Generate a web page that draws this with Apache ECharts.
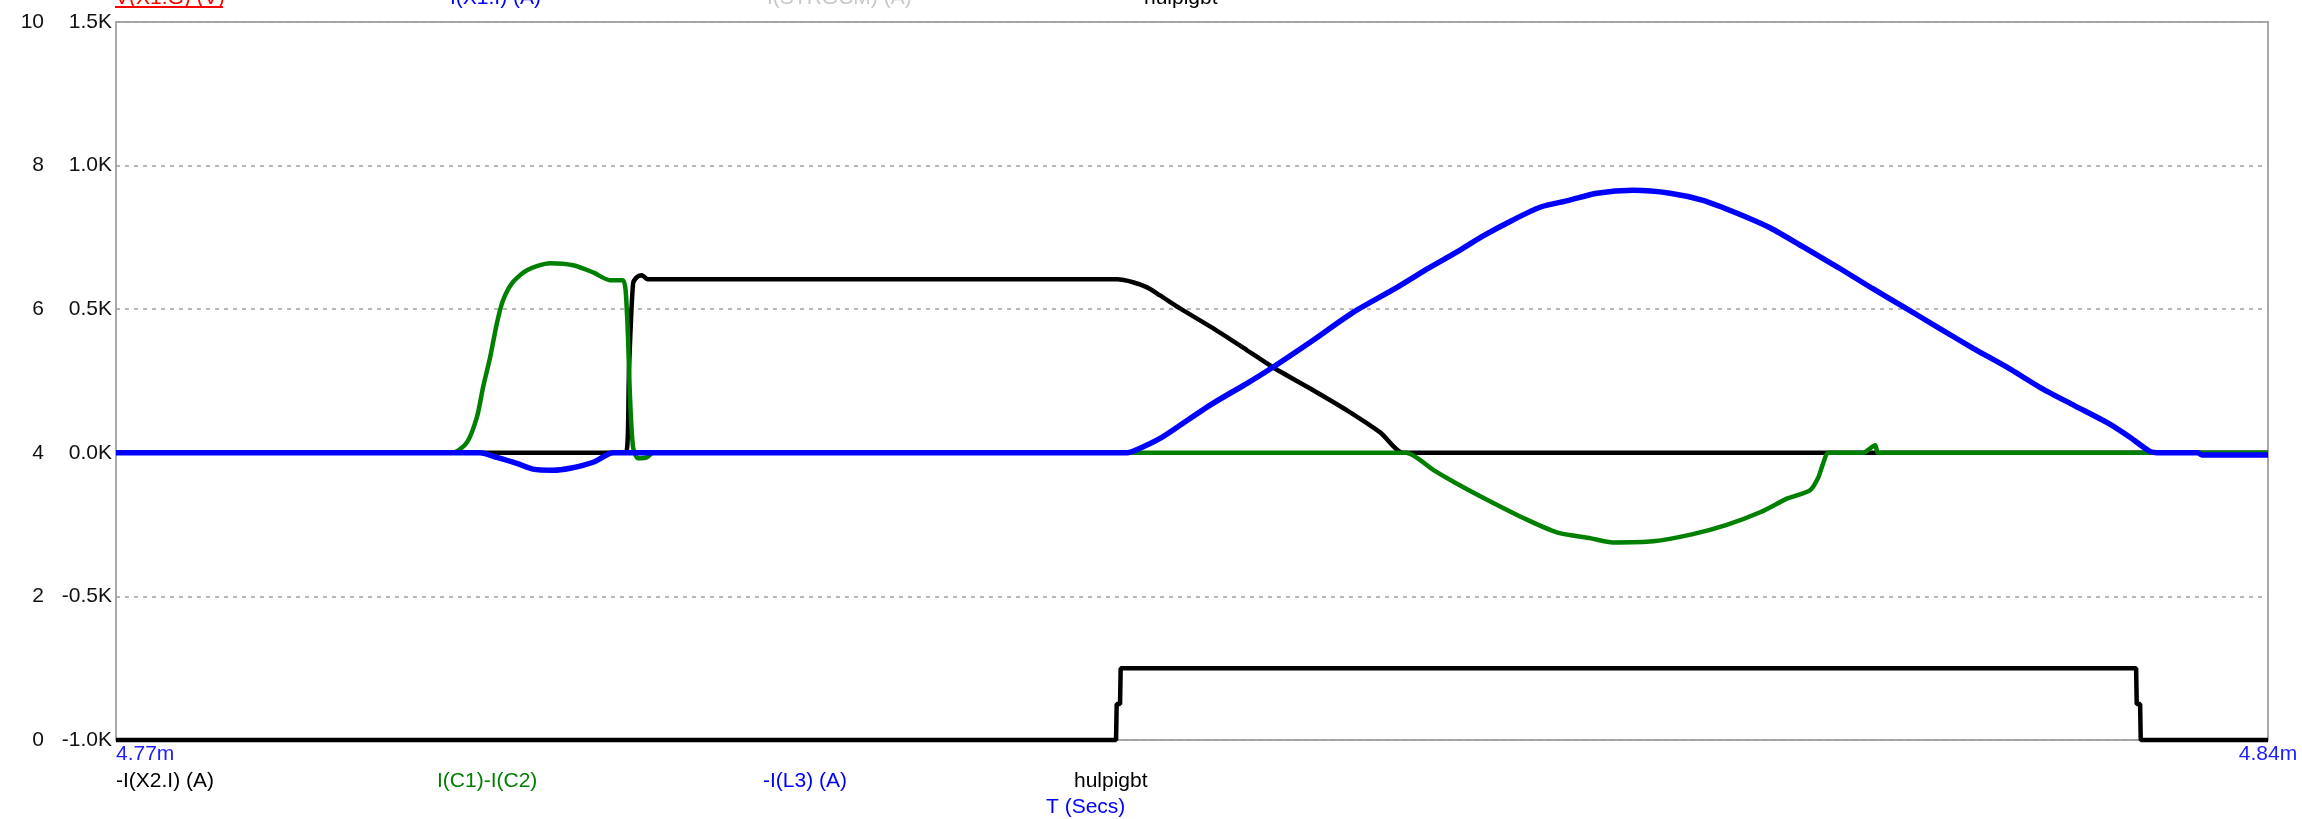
<!DOCTYPE html>
<html>
<head>
<meta charset="utf-8">
<script src="https://cdn.jsdelivr.net/npm/echarts@6/dist/echarts.min.js"></script>
<style>
  html, body { margin: 0; padding: 0; background: #fff; }
  #main { width: 2302px; height: 819px; }
</style>
</head>
<body>
<div id="main"></div>
<script>
// time axis in microseconds (4.77m .. 4.84m seconds)
const timeMin = 4770;
const timeMax = 4840;
const timeLabels = { 4770: '4.77m', 4840: '4.84m' };

// -I(X2.I) (A)
const x2Time = [4770, 4786.3, 4786.59, 4786.69, 4786.82, 4786.95, 4787.11, 4787.30, 4787.6, 4802.2, 4802.56, 4803.08,
  4803.54, 4803.96, 4804.61, 4805.68, 4806.79, 4807.63, 4808.94, 4810.04, 4811.12, 4811.86, 4812.2, 4840];
const x2Amps = [0, 0, 0, 300, 590, 612, 618, 604, 604, 604, 604, 594,
  576, 548, 503, 434, 357, 298, 218, 148, 71, 0, 0, 0];

// I(C1)-I(C2)
const c12Time = [4770, 4780.6, 4780.96, 4781.42, 4781.74, 4781.94, 4782.17, 4782.39, 4782.59, 4782.91, 4783.37, 4784.12,
  4784.87, 4785.52, 4786.07, 4786.49, 4786.62, 4786.72, 4786.82, 4786.98, 4787.27, 4787.47, 4787.8,
  4811.6, 4811.96, 4812.87, 4813.59, 4814.50, 4815.80, 4816.87, 4817.98, 4818.69, 4820.00, 4821.26,
  4822.37, 4823.48, 4824.39, 4825.10, 4825.36, 4825.53, 4825.69, 4826.0, 4826.83, 4827.22, 4827.31, 4827.6, 4840];
const c12Amps = [0, 0, 0, 37, 124, 228, 333, 451, 531, 594, 636, 660,
  653, 628, 601, 601, 486, 193, 19, -19, -16, 0, 0,
  0, 0, -61, -106, -158, -228, -277, -298, -312, -308, -284,
  -252, -207, -158, -131, -89, -37, 0, 0, 0, 26, 0, 0, 0];

// -I(L3) (A)
const l3Time = [4770, 4781.5, 4781.84, 4782.39, 4783.04, 4783.56, 4784.21, 4784.77, 4785.52, 4786.17, 4786.5,
  4802.5, 4802.89, 4803.31, 4803.96, 4804.61, 4805.68, 4806.79, 4807.63, 4808.94, 4810.24, 4811.67,
  4812.68, 4813.59, 4814.50, 4815.41, 4816.32, 4817.26, 4818.17, 4819.35, 4820.55, 4821.62,
  4822.73, 4823.83, 4824.91, 4826.01, 4827.12, 4828.23, 4829.30, 4830.41, 4831.51, 4832.58,
  4833.69, 4834.80, 4835.51, 4836.16, 4836.5, 4837.72, 4837.85, 4838.1, 4840];
const l3Amps = [0, 0, 0, -16, -37, -57, -61, -54, -33, 0, 0,
  0, 0, 16, 50, 96, 172, 242, 298, 392, 489, 576,
  642, 698, 757, 809, 855, 879, 904, 914, 904, 879,
  834, 782, 715, 646, 573, 503, 434, 364, 298, 228,
  165, 103, 54, 5, 0, 0, -8, -8, -8];

// hulpigbt (0..10 scale)
const gateTime = [4770, 4802.53, 4802.55, 4802.66, 4802.68, 4835.71, 4835.73, 4835.84, 4835.86, 4840];
const gateLevel = [0, 0, 0.5, 0.5, 1, 1, 0.5, 0.5, 0, 0];

// trace names
const topTraces = ['V(X1.G) (V)', 'I(X1.I) (A)', '-I(STRGCM) (A)', 'hulpigbt'];
const bottomTraces = ['-I(X2.I) (A)', 'I(C1)-I(C2)', '-I(L3) (A)', 'hulpigbt'];

function zip(xs, ys) { return xs.map((x, i) => [x, ys[i]]); }

const font = "'Liberation Sans', Arial, sans-serif";
const chart = echarts.init(document.getElementById('main'), null, { renderer: 'canvas' });

function trace(name, data, color, axis, width, smooth) {
  return {
    name: name, type: 'line', data: data, yAxisIndex: axis,
    showSymbol: false, animation: false, clip: axis === 0,
    smooth: smooth,
    lineStyle: { color: color, width: width }
  };
}

chart.setOption({
  backgroundColor: '#fff',
  animation: false,
  grid: { left: 116, right: 34, top: 22, bottom: 79, show: true, borderColor: '#a8a8a8', borderWidth: 2 },
  xAxis: {
    type: 'value', min: timeMin, max: timeMax, interval: 10,
    axisLine: { show: false }, axisTick: { show: false }, splitLine: { show: false },
    axisLabel: {
      color: '#2020ff', fontFamily: font, fontSize: 21, margin: 4,
      alignMinLabel: 'left', alignMaxLabel: 'center',
      formatter: v => timeLabels[Math.round(v)] || ''
    }
  },
  yAxis: [
    {
      type: 'value', position: 'left', min: -1000, max: 1500, interval: 500,
      axisLine: { show: false }, axisTick: { show: false },
      splitLine: { show: true, lineStyle: { color: '#a0a0a0', width: 1.5, type: [4, 5] } },
      axisLabel: { color: '#111', fontFamily: font, fontSize: 21, margin: 4,
        formatter: v => (v / 1000).toFixed(1) + 'K' }
    },
    {
      type: 'value', position: 'left', offset: 68, min: 0, max: 10, interval: 2,
      axisLine: { show: false }, axisTick: { show: false }, splitLine: { show: false },
      axisLabel: { color: '#111', fontFamily: font, fontSize: 21, margin: 4 }
    }
  ],
  series: [
    trace(bottomTraces[0], zip(x2Time, x2Amps), '#000000', 0, 4.5, 0.25),
    trace(bottomTraces[1], zip(c12Time, c12Amps), '#008000', 0, 4.5, 0.25),
    trace(bottomTraces[2], zip(l3Time, l3Amps), '#0000ff', 0, 5.5, 0.25),
    trace(bottomTraces[3], zip(gateTime, gateLevel), '#000000', 1, 4.5, false)
  ],
  graphic: [
    // clipped trace names along the top edge
    { type: 'text', left: 115, top: -12, style: { text: topTraces[0], fill: '#ff0000', font: '21px ' + font } },
    { type: 'rect', shape: { x: 115, y: 6, width: 108, height: 2 }, style: { fill: '#ff0000' } },
    { type: 'text', left: 450, top: -12, style: { text: topTraces[1], fill: '#0000ff', font: '21px ' + font } },
    { type: 'text', left: 760, top: -12, style: { text: topTraces[2], fill: '#c8c8c8', font: '21px ' + font } },
    { type: 'text', left: 1144, top: -12, style: { text: topTraces[3], fill: '#000000', font: '21px ' + font } },
    // trace names under the plot
    { type: 'text', left: 116, top: 771, style: { text: bottomTraces[0], fill: '#000000', font: '21px ' + font } },
    { type: 'text', left: 437, top: 771, style: { text: bottomTraces[1], fill: '#008000', font: '21px ' + font } },
    { type: 'text', left: 763, top: 771, style: { text: bottomTraces[2], fill: '#0000ff', font: '21px ' + font } },
    { type: 'text', left: 1074, top: 771, style: { text: bottomTraces[3], fill: '#000000', font: '21px ' + font } },
    { type: 'text', left: 1046, top: 797, style: { text: 'T (Secs)', fill: '#0000ff', font: '21px ' + font } }
  ]
});
</script>
</body>
</html>
